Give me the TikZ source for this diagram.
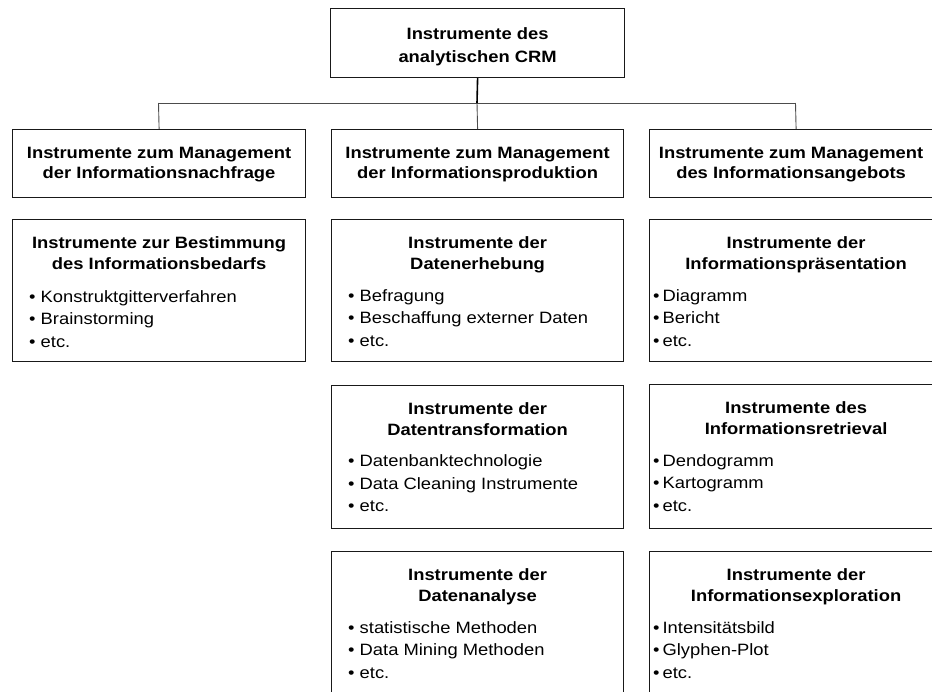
\documentclass[tikz,border=0pt]{standalone}
\usepackage{fontspec}
\setmainfont{Liberation Sans}[FakeStretch=1.12]
\begin{document}
\begin{tikzpicture}[x=1pt,y=-1pt,
  box/.style={draw=black!90, line width=1.2pt, inner sep=0pt, anchor=north west, minimum width=293pt},
  hdrbox/.style={box, minimum height=68pt},
  cbox/.style={box, minimum height=143pt},
  ttl/.style={anchor=north, align=center, inner sep=0pt, font=\bfseries\fontsize{16.4}{21}\selectfont},
  hdr/.style={anchor=north, align=center, inner sep=0pt, font=\bfseries\fontsize{16.4}{20}\selectfont},
  bul/.style={anchor=north west, align=left, inner sep=0pt, font=\fontsize{16.4}{22.5}\selectfont},
  thinconn/.style={draw=black!70, line width=0.9pt},
  thickconn/.style={draw=black, line width=1.6pt}]
\useasboundingbox (0,0) rectangle (932,691);
\clip (0,0) rectangle (932,691);

% top box
\node[box, minimum width=294pt, minimum height=69pt] (top) at (330,8) {};
\node[ttl, font=\bfseries\fontsize{16.4}{23}\selectfont] (toptxt) at ([yshift=-19pt]top.north) {Instrumente des\\analytischen CRM};

% header boxes
\node[hdrbox] (h1) at (12,129) {};
\node[hdrbox, minimum width=292pt] (h2) at (331,129) {};
\node[hdrbox] (h3) at (649,129) {};
\node[hdr] (h1t) at ([yshift=-18pt]h1.north) {Instrumente zum Management\\der Informationsnachfrage};
\node[hdr] (h2t) at ([yshift=-18pt]h2.north) {Instrumente zum Management\\der Informationsproduktion};
\node[hdr] (h3t) at ([xshift=-5pt,yshift=-18pt]h3.north) {Instrumente zum Management\\des Informationsangebots};

% connectors
\coordinate (hub) at (477,103);
\coordinate (hl) at (158.5,103);
\coordinate (hr) at (795.5,103);
\draw[thinconn] (hl) -- (hr);
\draw[thinconn] (hl) -- (h1.north);
\draw[thinconn] (hub) -- (h2.north);
\draw[thinconn] (hr) -- (h3.north);
\draw[thickconn] (top.south) -- (hub);

% left column
\node[cbox, minimum height=142pt] (l1) at (12,219) {};
\node[ttl] (l1t) at ([yshift=-17.5pt]l1.north) {Instrumente zur Bestimmung\\des Informationsbedarfs};
\node[bul] (l1b) at ([xshift=17pt,yshift=-71pt]l1.north west) {\textbullet\ Konstruktgitterverfahren\\\textbullet\ Brainstorming\\\textbullet\ etc.};

% middle column
\node[cbox, minimum width=292pt, minimum height=142pt] (m1) at (331,219) {};
\node[ttl] (m1t) at ([yshift=-17.5pt]m1.north) {Instrumente der\\Datenerhebung};
\node[bul] (m1b) at ([xshift=17pt,yshift=-70pt]m1.north west) {\textbullet\ Befragung\\\textbullet\ Beschaffung externer Daten\\\textbullet\ etc.};

\node[cbox, minimum width=292pt] (m2) at (331,385) {};
\node[ttl] (m2t) at ([yshift=-17pt]m2.north) {Instrumente der\\Datentransformation};
\node[bul] (m2b) at ([xshift=17pt,yshift=-69.5pt]m2.north west) {\textbullet\ Datenbanktechnologie\\\textbullet\ Data Cleaning Instrumente\\\textbullet\ etc.};

\node[cbox, minimum width=292pt] (m3) at (331,551) {};
\node[ttl] (m3t) at ([yshift=-17pt]m3.north) {Instrumente der\\Datenanalyse};
\node[bul] (m3b) at ([xshift=17pt,yshift=-70pt]m3.north west) {\textbullet\ statistische Methoden\\\textbullet\ Data Mining Methoden\\\textbullet\ etc.};

% right column
\node[cbox, minimum height=142pt] (r1) at (649,219) {};
\node[ttl] (r1t) at ([yshift=-17.5pt]r1.north) {Instrumente der\\Informationspräsentation};
\node[bul] (r1b) at ([xshift=4pt,yshift=-70pt]r1.north west) {\textbullet\hspace{3pt}Diagramm\\\textbullet\hspace{3pt}Bericht\\\textbullet\hspace{3pt}etc.};

\node[cbox, minimum height=144pt] (r2) at (649,384) {};
\node[ttl] (r2t) at ([yshift=-17.5pt]r2.north) {Instrumente des\\Informationsretrieval};
\node[bul] (r2b) at ([xshift=4pt,yshift=-70pt]r2.north west) {\textbullet\hspace{3pt}Dendogramm\\\textbullet\hspace{3pt}Kartogramm\\\textbullet\hspace{3pt}etc.};

\node[cbox] (r3) at (649,551) {};
\node[ttl] (r3t) at ([yshift=-17pt]r3.north) {Instrumente der\\Informationsexploration};
\node[bul] (r3b) at ([xshift=4pt,yshift=-70pt]r3.north west) {\textbullet\hspace{3pt}Intensitätsbild\\\textbullet\hspace{3pt}Glyphen-Plot\\\textbullet\hspace{3pt}etc.};
\end{tikzpicture}
\end{document}
